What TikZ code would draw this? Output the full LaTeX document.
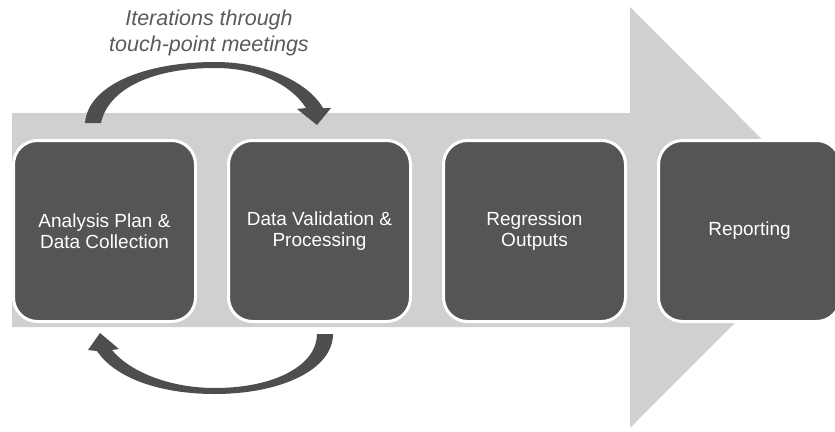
\documentclass[tikz,border=0pt]{standalone}
\usepackage{fontspec}
\setmainfont{Liberation Sans}
\usetikzlibrary{positioning,shadows}
\definecolor{bandgray}{HTML}{D0D0D0}
\definecolor{boxgray}{HTML}{545557}
\definecolor{loopgray}{HTML}{4D4E50}
\definecolor{notegray}{HTML}{5A5A5A}
\tikzset{
  stage/.style={draw=white, line width=3pt, fill=boxgray, rounded corners=24pt,
    minimum width=182pt, minimum height=181pt, text=white, align=center,
    font=\fontsize{19}{21}\selectfont,
    drop shadow={opacity=0.25, shadow xshift=1pt, shadow yshift=-1pt}},
  loop/.style={fill=loopgray, draw=none}
}
\begin{document}
\begin{tikzpicture}[x=1pt, y=-1pt]
        \useasboundingbox (0,0) rectangle (835,431);
        \fill[bandgray](12,113)--(630,113)--(630,7)--(840,217.5)--(630,428)--(630,327)--(12,327)--cycle;
        \node[stage] (plan) at (104.5,231){Analysis Plan \&\\Data Collection};
        \node[stage, right=30pt of plan] (valid){Data Validation \&\\Processing};
        \node[stage, right=30pt of valid] (regr){Regression\\Outputs};
        \node[stage, right=30pt of regr] (report){Reporting};
        \node[text=notegray, align=center, font=\fontsize{21.5}{26.5}\selectfont\itshape] (note) at (209,33){Iterations through\\touch-point meetings};
        \fill[loop](85,123) .. controls (88,85) and (145,62) .. (215,62) .. controls (270,62) and (310,85) .. (323,108)
            --(331,108)--(317,125)--(297,109)--(306,108) .. controls (292,86) and (260,68) .. (215,68)
            .. controls (150,68) and (108,90) .. (101,123)--cycle;
        \fill[loop](317,334)--(333,334) .. controls (333,370) and (280,394) .. (215,394)
            .. controls (160,394) and (115,378) .. (97,351)--(88,350)--(100,333)--(119,349)--(112,350)
            .. controls (130,372) and (170,388) .. (215,388) .. controls (275,388) and (317,365) .. (317,334)--cycle;
    \end{tikzpicture}
\end{document}
